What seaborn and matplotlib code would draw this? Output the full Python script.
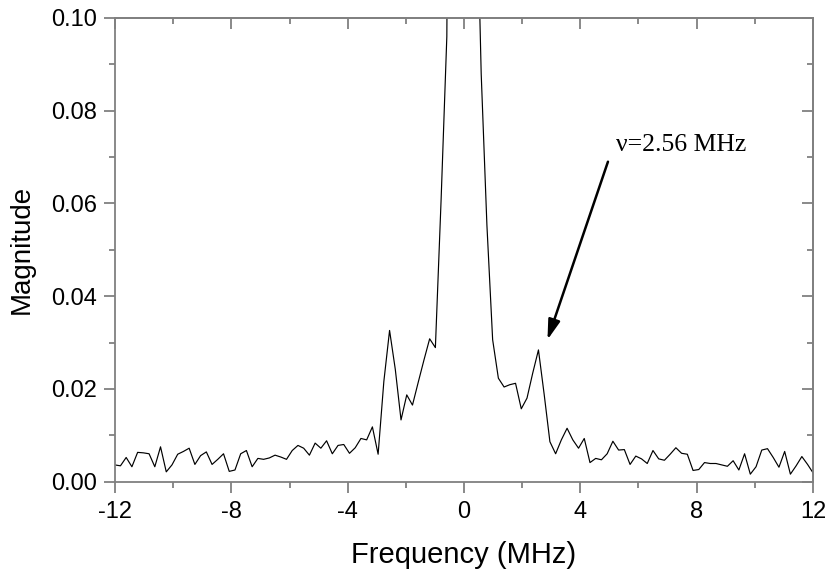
import numpy as np
import pandas as pd
import seaborn as sns
import matplotlib.pyplot as plt
from matplotlib.ticker import MultipleLocator, FormatStrFormatter

sns.set_style("ticks")
plt.rcParams['font.family'] = ['Liberation Sans', 'DejaVu Sans']
plt.rcParams['axes.unicode_minus'] = False
plt.rcParams['axes.labelcolor'] = 'black'
plt.rcParams['text.color'] = 'black'

# FFT bin spacing (MHz) and bin indices
freq_step = 0.1969
bins = np.arange(-61, 62)

# magnitudes, bins -61 .. -5
mag_neg = [0.0036, 0.0034, 0.0052, 0.0032, 0.0063, 0.0062, 0.0060, 0.0032, 0.0075, 0.0021,
           0.0036, 0.0059, 0.0065, 0.0072, 0.0037, 0.0056, 0.0064, 0.0037, 0.0048, 0.0060,
           0.0022, 0.0025, 0.0060, 0.0067, 0.0032, 0.0050, 0.0048, 0.0051, 0.0057, 0.0053,
           0.0048, 0.0067, 0.0078, 0.0072, 0.0057, 0.0083, 0.0072, 0.0088, 0.0060, 0.0078,
           0.0080, 0.0061, 0.0073, 0.0093, 0.0090, 0.0118, 0.0059, 0.0216, 0.0326, 0.0242,
           0.0133, 0.0187, 0.0165, 0.0214, 0.0262, 0.0308, 0.0289]
# central peak, bins -4 .. 4 (top is off scale)
mag_center = [0.0608, 0.0960, 0.30, 0.90, 1.0, 0.85, 0.14, 0.088, 0.0553]
# bins 5 .. 61
mag_pos = [0.0306, 0.0223, 0.0204, 0.0209, 0.0212, 0.0157, 0.0180, 0.0234, 0.0284, 0.0188,
           0.0086, 0.0060, 0.0090, 0.0115, 0.0090, 0.0072, 0.0093, 0.0041, 0.0050, 0.0047,
           0.0060, 0.0087, 0.0068, 0.0069, 0.0037, 0.0055, 0.0049, 0.0039, 0.0067, 0.0049,
           0.0046, 0.0059, 0.0073, 0.0061, 0.0059, 0.0024, 0.0026, 0.0041, 0.0039, 0.0039,
           0.0036, 0.0033, 0.0045, 0.0025, 0.0060, 0.0016, 0.0032, 0.0068, 0.0071, 0.0052,
           0.0031, 0.0065, 0.0016, 0.0034, 0.0054, 0.0037, 0.0018]

df = pd.DataFrame({'freq': bins * freq_step,
                   'mag': mag_neg + mag_center + mag_pos})

x_major = [-12, -8, -4, 0, 4, 8, 12]
y_major = [0.00, 0.02, 0.04, 0.06, 0.08, 0.10]
spine_col = '#808080'

fig = plt.figure(figsize=(8.3, 5.71), dpi=100)
ax = fig.add_axes([0.1386, 0.1566, 0.8409, 0.8119])

sns.lineplot(data=df, x='freq', y='mag', color='black', linewidth=0.85, ax=ax)

ax.set_xlim(-12, 12)
ax.set_ylim(0, 0.1)
ax.set_xticks(x_major)
ax.set_yticks(y_major)
ax.xaxis.set_minor_locator(MultipleLocator(2))
ax.yaxis.set_minor_locator(MultipleLocator(0.01))
ax.yaxis.set_major_formatter(FormatStrFormatter('%.2f'))

for s in ax.spines.values():
    s.set_visible(True)
    s.set_color(spine_col)
    s.set_linewidth(1.3)

ax.tick_params(which='major', direction='out', length=8, width=1.3, color=spine_col,
               labelsize=17, labelcolor='black')
ax.tick_params(which='minor', direction='out', length=4, width=1.3, color=spine_col)
ax.tick_params(axis='x', which='major', pad=6)
ax.tick_params(axis='y', which='major', pad=5)

# top / right mirrored ticks pointing inward
top = ax.secondary_xaxis('top')
top.set_xticks(x_major)
top.xaxis.set_minor_locator(MultipleLocator(2))
top.tick_params(which='major', direction='in', length=8, width=1.3, color=spine_col, labeltop=False)
top.tick_params(which='minor', direction='in', length=4, width=1.3, color=spine_col)
top.spines['top'].set_color(spine_col)
top.spines['top'].set_linewidth(1.3)

right = ax.secondary_yaxis('right')
right.set_yticks(y_major)
right.yaxis.set_minor_locator(MultipleLocator(0.01))
right.tick_params(which='major', direction='in', length=8, width=1.3, color=spine_col, labelright=False)
right.tick_params(which='minor', direction='in', length=4, width=1.3, color=spine_col)
right.spines['right'].set_color(spine_col)
right.spines['right'].set_linewidth(1.3)

ax.set_xlabel('Frequency (MHz)', fontsize=21, labelpad=13, color='black')
ax.set_ylabel('Magnitude', fontsize=20, labelpad=12, color='black')

ax.annotate('', xy=(2.87, 0.0306), xytext=(4.95, 0.069),
            arrowprops=dict(arrowstyle='-|>,head_length=0.6,head_width=0.18',
                            color='black', lw=1.8, mutation_scale=20, shrinkA=0, shrinkB=0))
ax.text(5.24, 0.0727, 'ν=2.56 MHz', fontsize=18.5, va='center', color='black',
        family=['Liberation Serif', 'DejaVu Serif'])

fig.savefig('out.png', dpi=100)
